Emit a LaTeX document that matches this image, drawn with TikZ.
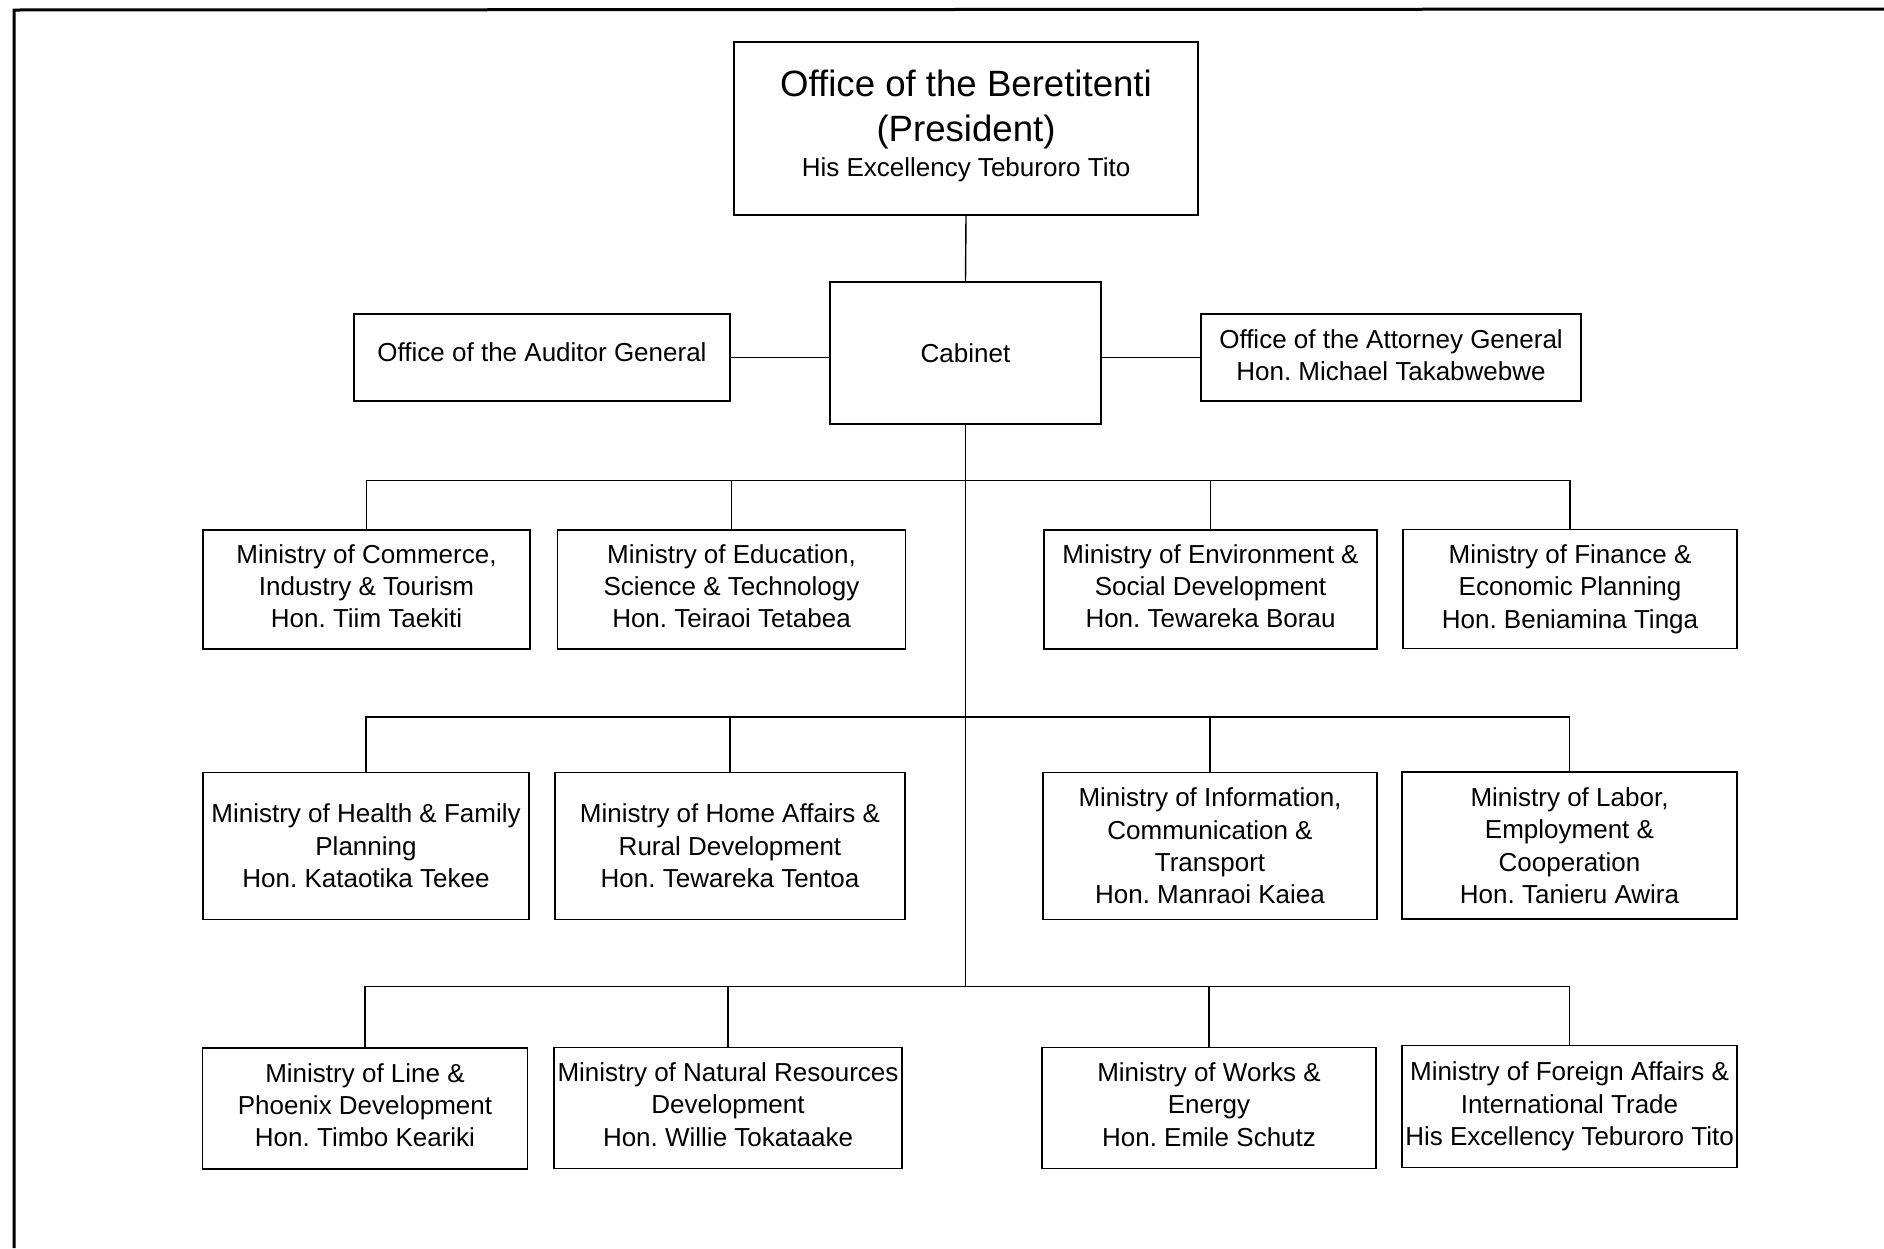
\documentclass[tikz,border=0pt]{standalone}
\usepackage{fontspec}
\setmainfont{Liberation Sans}
\frenchspacing
\newcommand{\nf}{\fontsize{26}{32.4}\selectfont}
\newcommand{\bgf}{\fontsize{36.6}{41}\selectfont}
\tikzset{
  box/.style={draw, line width=1.4pt, inner sep=0pt, align=center, font=\nf},
  lift/.style={text depth=7pt},
  conn/.style={line width=1.4pt},
  frameline/.style={line width=3pt}
}
\begin{document}
\begin{tikzpicture}[x=1pt,y=-1pt]
\useasboundingbox (0,0) rectangle (1884,1248);
\draw[frameline] (14,1248) -- (14,10) -- (1884,9);

\node[box, text depth=10.5pt, minimum width=464, minimum height=173] (pres) at (966,128.5)
 {\bgf Office of the Beretitenti\\[12pt] \bgf (President)\\[2.5pt] \fontsize{26}{41}\selectfont His Excellency Teburoro Tito};
\node[box, minimum width=271, minimum height=142] (cab) at (965.5,353) {Cabinet};
\node[box, text depth=11pt, minimum width=376, minimum height=87] (aud) at (542,357.5) {Office of the Auditor General};
\node[box, text depth=5pt, minimum width=380, minimum height=87] (att) at (1391,357.5) {Office of the Attorney General\\Hon. Michael Takabwebwe};

% row 1
\node[box, lift, minimum width=327, minimum height=119] (c1) at (366.5,589.5) {Ministry of Commerce,\\Industry \& Tourism\\Hon. Tiim Taekiti};
\node[box, lift, minimum width=348.5, minimum height=119] (c2) at (731.5,589.5) {Ministry of Education,\\Science \& Technology\\Hon. Teiraoi Tetabea};
\node[box, lift, minimum width=333, minimum height=119] (c3) at (1210.5,589.5) {Ministry of Environment \&\\Social Development\\Hon. Tewareka Borau};
\node[box, minimum width=334, minimum height=119] (c4) at (1570,589) {Ministry of Finance \&\\Economic Planning\\Hon. Beniamina Tinga};

% row 2
\node[box, minimum width=326, minimum height=147] (h1) at (366,846) {Ministry of Health \& Family\\Planning\\Hon. Kataotika Tekee};
\node[box, minimum width=350, minimum height=147] (h2) at (730,846) {Ministry of Home Affairs \&\\Rural Development\\Hon. Tewareka Tentoa};
\node[box, minimum width=334, minimum height=147] (h3) at (1210,846) {Ministry of Information,\\Communication \&\\Transport\\Hon. Manraoi Kaiea};
\node[box, minimum width=335, minimum height=147] (h4) at (1569.5,845.5) {Ministry of Labor,\\Employment \&\\Cooperation\\Hon. Tanieru Awira};

% row 3
\node[box, lift, minimum width=325.5, minimum height=121] (l1) at (365,1108.5) {Ministry of Line \&\\Phoenix Development\\Hon. Timbo Keariki};
\node[box, lift, minimum width=348, minimum height=121] (l2) at (728,1108) {Ministry of Natural Resources\\Development\\Hon. Willie Tokataake};
\node[box, lift, minimum width=334, minimum height=121] (l3) at (1209,1108) {Ministry of Works \&\\Energy\\Hon. Emile Schutz};
\node[box, minimum width=335, minimum height=122] (l4) at (1569.5,1106.5) {Ministry of Foreign Affairs \&\\International Trade\\His Excellency Teburoro Tito};

\coordinate (b1) at (965,480.5);
\coordinate (b2) at (965,717);
\coordinate (b3) at (964,986.5);

\draw[conn] (pres.south) -- (cab.north);
\draw[conn] (aud.east) -- (aud.east -| cab.west);
\draw[conn] (att.west) -- (att.west -| cab.east);
\draw[conn] (cab.south) -- (cab.south |- b3);

\draw[conn] (c1.north) |- (b1) -| (c4.north);
\draw[conn] (c2.north) -- (c2.north |- b1);
\draw[conn] (c3.north) -- (c3.north |- b1);

\draw[conn] (h1.north) |- (b2) -| (h4.north);
\draw[conn] (h2.north) -- (h2.north |- b2);
\draw[conn] (h3.north) -- (h3.north |- b2);

\draw[conn] (l1.north) |- (b3) -| (l4.north);
\draw[conn] (l2.north) -- (l2.north |- b3);
\draw[conn] (l3.north) -- (l3.north |- b3);
\end{tikzpicture}
\end{document}
